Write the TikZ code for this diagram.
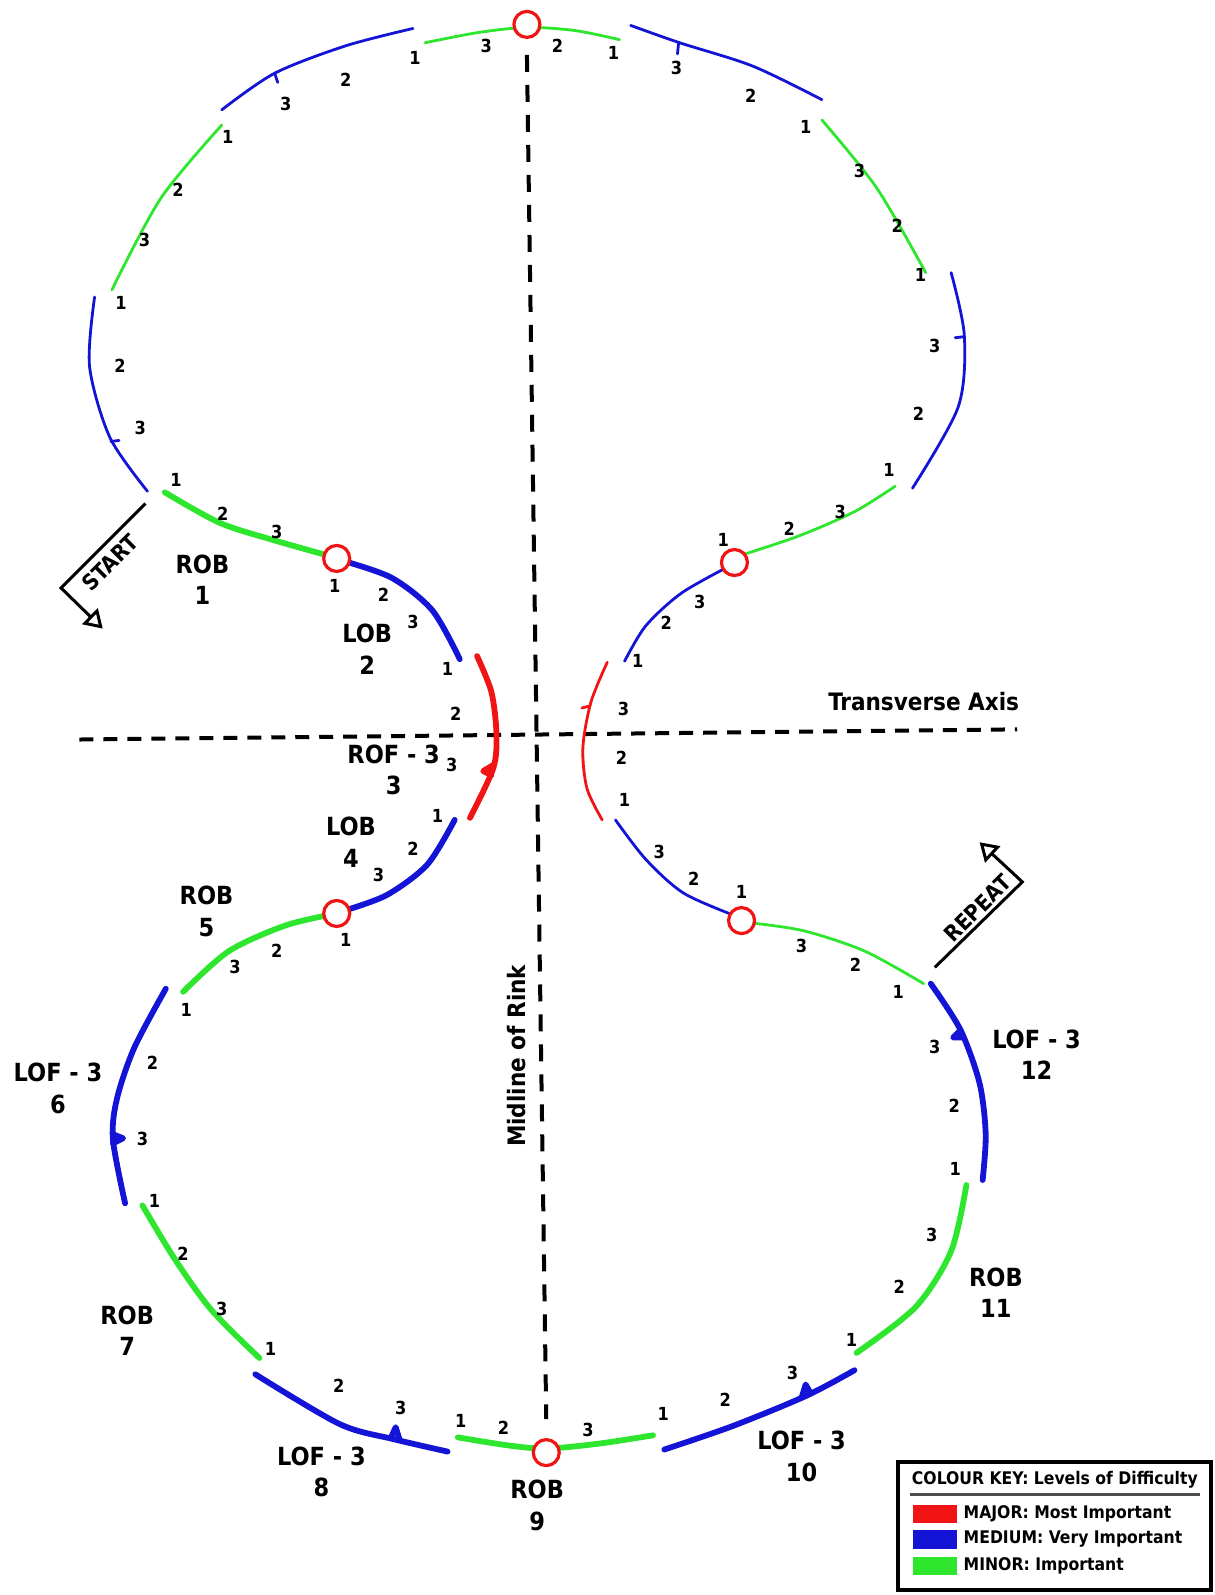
\documentclass[tikz,border=0pt]{standalone}
\usepackage{fontspec}
\setmainfont{DejaVu Sans Condensed}
\usetikzlibrary{arrows.meta}
\definecolor{keyred}{RGB}{240,20,20}
\definecolor{keyblue}{RGB}{20,20,215}
\definecolor{keygreen}{RGB}{45,230,45}

\begin{document}
\begin{tikzpicture}[
  x=0.5088pt, y=-0.5088pt,
  every node/.style={font=\bfseries},
  major/.style={draw=keyred},
  medium/.style={draw=keyblue},
  minor/.style={draw=keygreen},
  heavy/.style={line width=2.9pt, line cap=round},
  light/.style={line width=1.4pt, line cap=round},
  cusp/.style={line join=round},
  turn/.style={circle, draw=keyred, fill=white, line width=1.6pt, minimum size=13pt, inner sep=0pt},
  num/.style={font=\fontsize{9}{9}\selectfont\bfseries, inner sep=0pt},
  edgename/.style={font=\fontsize{12.5}{15.8}\selectfont\bfseries, align=center, inner sep=0pt},
  axislabel/.style={font=\fontsize{12}{12}\selectfont\bfseries, inner sep=0pt},
  axis/.style={line width=2pt, dash pattern=on 8.5pt off 6.5pt},
  pointer/.style={line width=1.5pt, -{Triangle[open, length=9pt, width=11pt, line width=1.5pt]}},
  keytext/.style={font=\fontsize{8.7}{8.7}\selectfont\bfseries, inner sep=0pt, anchor=west},
  swatch/.style={minimum width=22pt, minimum height=9.2pt, inner sep=0pt, anchor=north west}
]
\useasboundingbox (0,0) rectangle (1194,1568);

% Axes of the rink
\coordinate (midtop) at (518,54);
\coordinate (midbot) at (537,1395);
\coordinate (transL) at (78,727);
\coordinate (transR) at (1000,717);
\draw[axis] (midtop) -- (midbot);
\draw[axis, dash pattern=on 7pt off 5pt] (transL) -- (transR);
\node[axislabel] (transverse) at (908,690) {Transverse Axis};
\node[axislabel, rotate=90] (midline) at (508,1038) {Midline of Rink};

% Upper left circle
\draw[medium, light] plot[smooth] coordinates {(406,28) (340,45) (270,72) (218,108)};
\draw[medium, light] (270,72) -- (273,81);
\draw[minor, light] plot[smooth] coordinates {(218,123) (158,195) (110,285)};
\draw[medium, light] plot[smooth] coordinates {(93,292) (88,360) (108,430) (145,483)};
\draw[medium, light] (109,434) -- (117,433);
\draw[minor, light] plot[smooth] coordinates {(418,42) (470,32) (518,27) (565,30) (609,39)};

% Upper right circle
\draw[medium, light] plot[smooth] coordinates {(620,25) (668,42) (740,65) (808,98)};
\draw[medium, light] (667,43) -- (666,53);
\draw[minor, light] plot[smooth] coordinates {(808,118) (862,185) (910,268)};
\draw[medium, light] plot[smooth] coordinates {(935,268) (948,330) (942,400) (897,480)};
\draw[medium, light] (948,331) -- (939,332);
\draw[minor, light] plot[smooth] coordinates {(880,478) (840,503) (785,527) (728,546)};
\draw[medium, light] plot[smooth] coordinates {(718,556) (670,583) (635,615) (614,650)};

% Centre: three turns
\draw[minor, heavy] plot[smooth] coordinates {(162,484) (216,514) (269,531) (322,546)};
\draw[medium, heavy] plot[smooth] coordinates {(336,551) (385,568) (425,600) (452,648)};
\draw[major, heavy] plot[smooth] coordinates {(469,645) (483,680) (488,720) (485,755) (462,804)};
\draw[major, heavy, cusp] (485,752) -- (475,758) -- (483,762);
\draw[medium, heavy] plot[smooth] coordinates {(447,806) (420,850) (380,880) (336,896)};
\draw[major, light] plot[smooth] coordinates {(597,651) (581,690) (573,735) (577,775) (592,806)};
\draw[major, light] (580,694) -- (572,696);
\draw[medium, light] plot[smooth] coordinates {(605,806) (635,845) (672,878) (722,900)};
\draw[minor, light] plot[smooth] coordinates {(736,907) (790,915) (850,935) (908,967)};

% Lower circle
\draw[minor, heavy] plot[smooth] coordinates {(326,899) (280,910) (225,935) (180,975)};
\draw[medium, heavy] plot[smooth] coordinates {(163,972) (132,1030) (115,1080) (111,1120) (123,1183)};
\draw[medium, heavy, cusp] (111,1115) -- (121,1119) -- (111,1124);
\draw[minor, heavy] plot[smooth] coordinates {(140,1185) (172,1238) (208,1288) (255,1335)};
\draw[medium, heavy] plot[smooth] coordinates {(251,1351) (334,1400) (388,1415) (440,1427)};
\draw[medium, heavy, cusp] (384,1414) -- (389,1403) -- (393,1416);
\draw[minor, heavy] plot[smooth] coordinates {(450,1413) (500,1421) (538,1424) (590,1419) (642,1411)};
\draw[medium, heavy] plot[smooth] coordinates {(653,1425) (720,1402) (793,1372) (840,1347)};
\draw[medium, heavy, cusp] (788,1374) -- (792,1361) -- (797,1370);
\draw[minor, heavy] plot[smooth] coordinates {(842,1330) (900,1285) (935,1230) (950,1165)};
\draw[medium, heavy] plot[smooth] coordinates {(966,1160) (969,1115) (963,1065) (944,1012) (915,967)};
\draw[medium, heavy, cusp] (944,1013) -- (937,1020) -- (947,1020);

% Turn points
\node[turn] (t1) at (518,24) {};
\node[turn] (t2) at (331,549) {};
\node[turn] (t3) at (722,553) {};
\node[turn] (t4) at (331,898) {};
\node[turn] (t5) at (729,905) {};
\node[turn] (t6) at (537,1428) {};

% Counts 1 2 3
\foreach \x/\y/\d [count=\i] in {
  408/57/1, 478/45/3, 340/78/2, 281/102/3, 224/135/1, 175/187/2, 142/236/3,
  119/298/1, 118/360/2, 138/421/3, 173/472/1, 219/505/2, 272/523/3,
  329/576/1, 377/585/2, 406/611/3, 440/658/1, 448/702/2, 444/752/3,
  430/802/1, 406/834/2, 372/860/3, 340/924/1, 272/935/2, 231/951/3,
  183/993/1, 150/1045/2, 140/1120/3, 152/1181/1, 180/1233/2, 218/1287/3,
  266/1326/1, 333/1362/2, 394/1384/3, 453/1397/1, 495/1404/2, 578/1406/3,
  652/1390/1, 713/1376/2, 779/1350/3, 837/1317/1, 884/1265/2, 916/1214/3,
  939/1149/1, 938/1087/2, 919/1029/3, 883/975/1, 841/948/2, 788/930/3,
  729/877/1, 682/864/2, 648/838/3, 614/786/1, 611/745/2, 613/697/3,
  627/650/1, 655/612/2, 688/592/3, 711/531/1, 776/520/2, 826/503/3,
  874/462/1, 903/407/2, 919/340/3, 905/270/1, 882/222/2, 845/168/3,
  792/125/1, 738/94/2, 665/67/3, 603/52/1, 548/45/2}
  \node[num] (c\i) at (\x,\y) {\d};

% Edge names
\node[edgename] (e1) at (199,570) {ROB\\1};
\node[edgename] (e2) at (361,638) {LOB\\2};
\node[edgename] (e3) at (387,757) {ROF - 3\\3};
\node[edgename] (e4) at (345,828) {LOB\\4};
\node[edgename] (e5) at (203,896) {ROB\\5};
\node[edgename] (e6) at (57,1070) {LOF - 3\\6};
\node[edgename] (e7) at (125,1308) {ROB\\7};
\node[edgename] (e8) at (316,1447) {LOF - 3\\8};
\node[edgename] (e9) at (528,1480) {ROB\\9};
\node[edgename] (e10) at (788,1432) {LOF - 3\\10};
\node[edgename] (e11) at (979,1271) {ROB\\11};
\node[edgename] (e12) at (1019,1037) {LOF - 3\\12};

% Start and repeat
\coordinate (startA) at (143,495);
\coordinate (startB) at (60,578);
\coordinate (startC) at (101,618);
\draw[pointer] (startA) -- (startB) -- (startC);
\node[axislabel, font=\fontsize{11}{11}\selectfont\bfseries, rotate=45] (start) at (108,553) {START};
\coordinate (repA) at (919,951);
\coordinate (repB) at (1005,867);
\coordinate (repC) at (963,828);
\draw[pointer] (repA) -- (repB) -- (repC);
\node[axislabel, font=\fontsize{11}{11}\selectfont\bfseries, rotate=45] (repeat) at (961,893) {REPEAT};

% Colour key
\draw[line width=2pt, fill=white] (883,1437) rectangle (1190,1563);
\node[keytext, anchor=center] (keytitle) at (1037,1455) {COLOUR KEY: Levels of Difficulty};
\draw[line width=1.2pt, black!70] (895,1469) -- (1180,1469);
\node[swatch, fill=keyred] (swred) at (897,1479) {};
\node[swatch, fill=keyblue] (swblue) at (897,1504) {};
\node[swatch, fill=keygreen] (swgreen) at (897,1530) {};
\node[keytext] (kmajor) at (947,1488) {MAJOR: Most Important};
\node[keytext] (kmedium) at (947,1513) {MEDIUM: Very Important};
\node[keytext] (kminor) at (947,1539) {MINOR: Important};
\end{tikzpicture}
\end{document}
